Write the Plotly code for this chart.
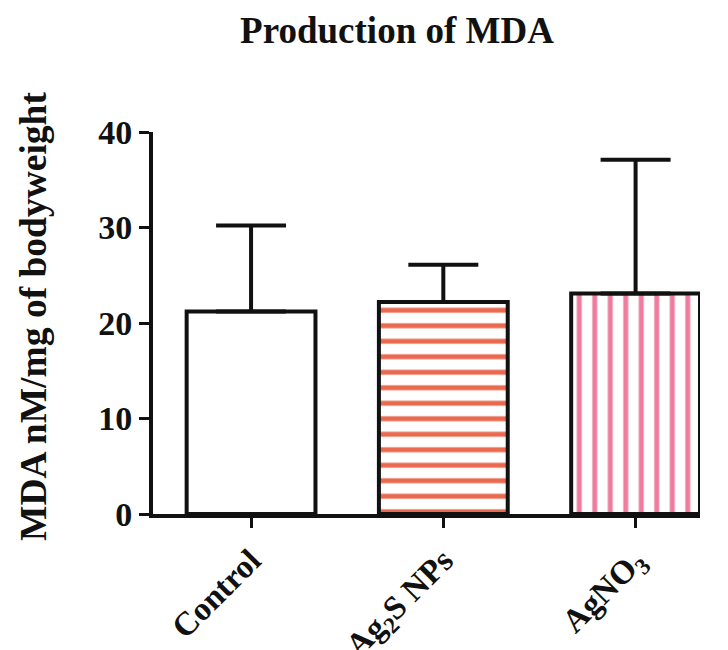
import plotly.graph_objects as go

categories = ["Control", "Ag<sub>2</sub>S NPs", "AgNO<sub>3</sub>"]
means = [21.2, 22.2, 23.1]
upper_err = [9.0, 3.9, 14.0]
y_ticks = [0, 10, 20, 30, 40]

fig = go.Figure()

x_pos = [0, 1, 2]
shapes = ["", "-", "|"]
fgcolors = ["#FFFFFF", "#EA6A4F", "#EF7C9E"]

for i in range(len(categories)):
    fig.add_trace(go.Bar(
        x=[x_pos[i]],
        y=[means[i]],
        width=0.67,
        marker=dict(
            color="white",
            line=dict(color="#111111", width=4),
            pattern=dict(shape=shapes[i], fgcolor=fgcolors[i], bgcolor="white",
                         fgopacity=1, size=15.5, solidity=0.32, fillmode="replace"),
        ),
        error_y=dict(type="data", symmetric=False, array=[upper_err[i]],
                     arrayminus=[0], color="#111111", thickness=4, width=35),
        showlegend=False,
    ))

font_family = "Liberation Serif, Times New Roman, serif"

# the page body adds an 8px offset, compensated in the margins
fig.update_layout(
    width=728, height=650,
    paper_bgcolor="white", plot_bgcolor="white",
    margin=dict(l=145, r=36, t=124, b=144, autoexpand=False),
    font=dict(family=font_family, color="#111111"),
    title=dict(text="<b>Production of MDA</b>", x=389 / 728, xref="container",
               xanchor="center", y=1 - 22 / 650, yref="container", yanchor="middle",
               font=dict(size=37, family=font_family, color="#111111"),
               automargin=False),
    barmode="overlay",
)

fig.update_xaxes(
    range=[-0.51, 2.335],
    tickmode="array", tickvals=x_pos,
    ticktext=["<b>" + c + "</b>" for c in categories],
    tickangle=-45,
    tickfont=dict(size=33, family=font_family, color="#111111"),
    showline=True, linecolor="#111111", linewidth=4,
    ticks="outside", ticklen=10, tickwidth=3, tickcolor="#111111",
    showgrid=False, zeroline=False, automargin=False,
)

fig.update_yaxes(
    range=[0, 40],
    tickmode="array", tickvals=y_ticks,
    ticktext=["<b>%d</b>" % v for v in y_ticks],
    tickfont=dict(size=34, family=font_family, color="#111111"),
    showline=True, linecolor="#111111", linewidth=4,
    ticks="outside", ticklen=10, tickwidth=3, tickcolor="#111111",
    showgrid=False, zeroline=False, automargin=False,
)

fig.add_annotation(
    text="<b>MDA nM/mg of bodyweight</b>",
    textangle=-90,
    xref="paper", yref="paper",
    x=(33 - 153) / 547, y=(514 - 317) / 382,
    xanchor="center", yanchor="middle",
    showarrow=False,
    font=dict(size=37.5, family=font_family, color="#111111"),
)

fig.write_html("out.html")
